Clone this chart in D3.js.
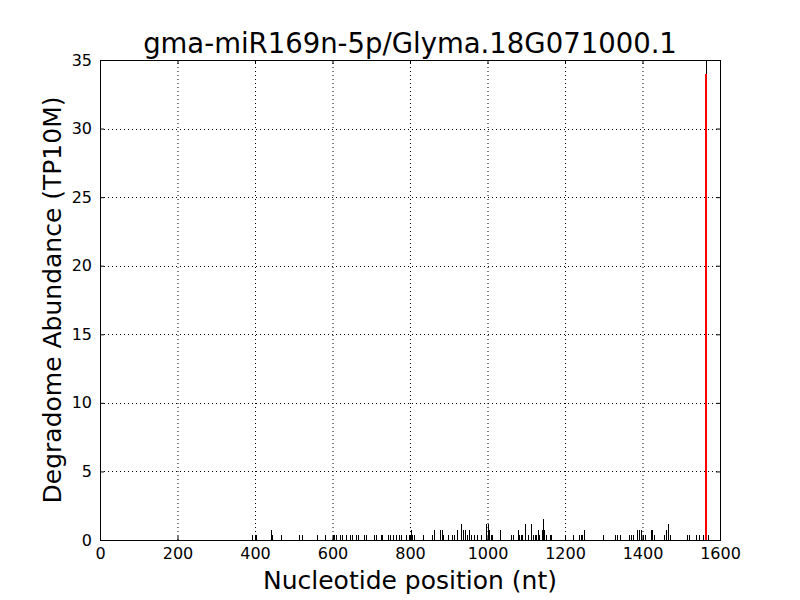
<!DOCTYPE html>
<html><head><meta charset="utf-8">
<script src="https://cdn.jsdelivr.net/npm/d3@7"></script>
<style>body{margin:0;background:#fff}text{font-family:"DejaVu Sans",sans-serif}</style>
</head><body><svg id="c" width="800" height="600"></svg>
<script>
const title = "gma-miR169n-5p/Glyma.18G071000.1";
const xLabel = "Nucleotide position (nt)";
const yLabel = "Degradome Abundance (TP10M)";
const xTicks = [0,200,400,600,800,1000,1200,1400,1600];
const yTicks = [0,5,10,15,20,25,30,35];
const positions = [391,402,440,445,468,514,522,561,580,601,604,608,620,625,635,645,650,660,667,680,687,706,713,724,729,742,748,757,763,771,
777,790,797,802,806,810,833,858,863,878,882,886,899,909,914,922,932,938,942,946,951,958,964,972,
983,995,1000,1003,1008,1012,1032,1060,1066,1078,1081,1086,1090,1098,1104,1111,1117,1122,1126,1130,1134,1141,1144,1147,1152,1160,1165,
1200,1221,1237,1241,1245,1248,1299,1330,1335,1341,1365,1371,1375,1387,1391,
1396,1402,1407,1421,1425,1430,1455,1460,1465,1470,1515,1520,1537,1546,1555,1570];
const values = [0.38,0.38,0.76,0.38,0.38,0.38,0.38,0.38,0.38,0.38,0.38,0.38,0.38,0.38,0.38,0.38,0.38,0.38,0.38,0.38,0.38,0.38,0.38,0.38,0.38,0.38,0.38,0.38,0.38,0.38,
0.38,0.38,0.38,0.76,0.38,0.38,0.38,0.38,0.76,0.76,0.76,0.38,0.38,0.38,0.38,0.76,1.14,0.76,0.76,0.38,0.76,0.38,0.38,0.38,
0.38,1.14,1.14,0.76,0.38,0.38,0.76,0.38,0.38,0.76,0.38,0.38,0.38,1.14,0.38,1.14,0.38,0.38,0.38,0.76,0.38,0.76,1.52,0.76,0.38,0.38,0.38,
0.38,0.38,0.38,0.38,0.38,0.76,0.38,0.38,0.38,0.38,0.38,0.38,0.38,0.76,0.76,
0.76,0.38,0.38,0.76,0.76,0.38,0.38,0.76,1.14,0.38,0.38,0.38,0.38,0.38,0.38,0.38];
const sitePos = [1563];
const siteVal = [34];

const W=800,H=600,m={l:100,r:80,t:60,b:60};
const svg=d3.select("#c");
const x=d3.scaleLinear().domain([0,1600]).range([m.l,W-m.r]);
const y=d3.scaleLinear().domain([0,35]).range([H-m.b,m.t]);
const g=svg.append("g");
// grid
g.selectAll(".gx").data(xTicks.slice(1,-1)).enter().append("line")
 .attr("x1",d=>x(d)+0.5).attr("x2",d=>x(d)+0.5).attr("y1",y(0)).attr("y2",y(35))
 .attr("stroke","#000").attr("stroke-width",1).attr("stroke-dasharray","1,3");
g.selectAll(".gy").data(yTicks.slice(1,-1)).enter().append("line")
 .attr("y1",d=>Math.round(y(d))+0.5).attr("y2",d=>Math.round(y(d))+0.5).attr("x1",x(0)).attr("x2",x(1600))
 .attr("stroke","#000").attr("stroke-width",1).attr("stroke-dasharray","1,3");
// bars
g.selectAll(".b").data(positions.map((p,i)=>({p,v:values[i]}))).enter().append("rect")
 .attr("x",d=>Math.round(x(d.p))).attr("width",1).attr("y",d=>Math.round(y(d.v))).attr("height",d=>y(0)-Math.round(y(d.v))).attr("fill","#000");
// site
sitePos.forEach((p,i)=>{
 const top=Math.round(y(siteVal[i]));
 g.append("rect").attr("x",Math.round(x(p))).attr("width",1).attr("y",y(35)).attr("height",top-y(35)).attr("fill","#000");
 g.append("rect").attr("x",Math.round(x(p))-1).attr("width",2).attr("y",top).attr("height",y(0)-top).attr("fill","#f00");
});
// axes
const fmt=d3.format("d");
const ax=d3.axisBottom(x).tickValues(xTicks).tickFormat(fmt).tickSizeInner(-4).tickSizeOuter(0).tickPadding(8);
const ay=d3.axisLeft(y).tickValues(yTicks).tickFormat(fmt).tickSizeInner(-4).tickSizeOuter(0).tickPadding(8);
svg.append("g").attr("transform",`translate(0,${H-m.b})`).call(ax);
svg.append("g").attr("transform",`translate(${m.l},0)`).call(ay);
svg.append("g").attr("transform",`translate(0,${m.t})`).call(d3.axisTop(x).tickValues(xTicks).tickSizeInner(-4).tickSizeOuter(0).tickFormat(""));
svg.append("g").attr("transform",`translate(${W-m.r},0)`).call(d3.axisRight(y).tickValues(yTicks).tickSizeInner(-4).tickSizeOuter(0).tickFormat(""));
svg.selectAll(".domain").remove();
svg.selectAll(".tick text").attr("font-size",16).attr("fill","#000").attr("font-family","DejaVu Sans");
svg.selectAll(".tick line").attr("stroke","#000");
svg.append("rect").attr("x",m.l+0.5).attr("y",m.t+0.5).attr("width",W-m.l-m.r).attr("height",H-m.t-m.b).attr("fill","none").attr("stroke","#000").attr("stroke-width",1);
svg.append("text").attr("x",(m.l+W-m.r)/2).attr("y",53).attr("text-anchor","middle").attr("font-size",27.5).text(title);
svg.append("text").attr("x",(m.l+W-m.r)/2).attr("y",589).attr("text-anchor","middle").attr("font-size",25).text(xLabel);
svg.append("text").attr("transform",`translate(61,${(m.t+H-m.b)/2}) rotate(-90)`).attr("text-anchor","middle").attr("font-size",25).text(yLabel);
</script></body></html>
